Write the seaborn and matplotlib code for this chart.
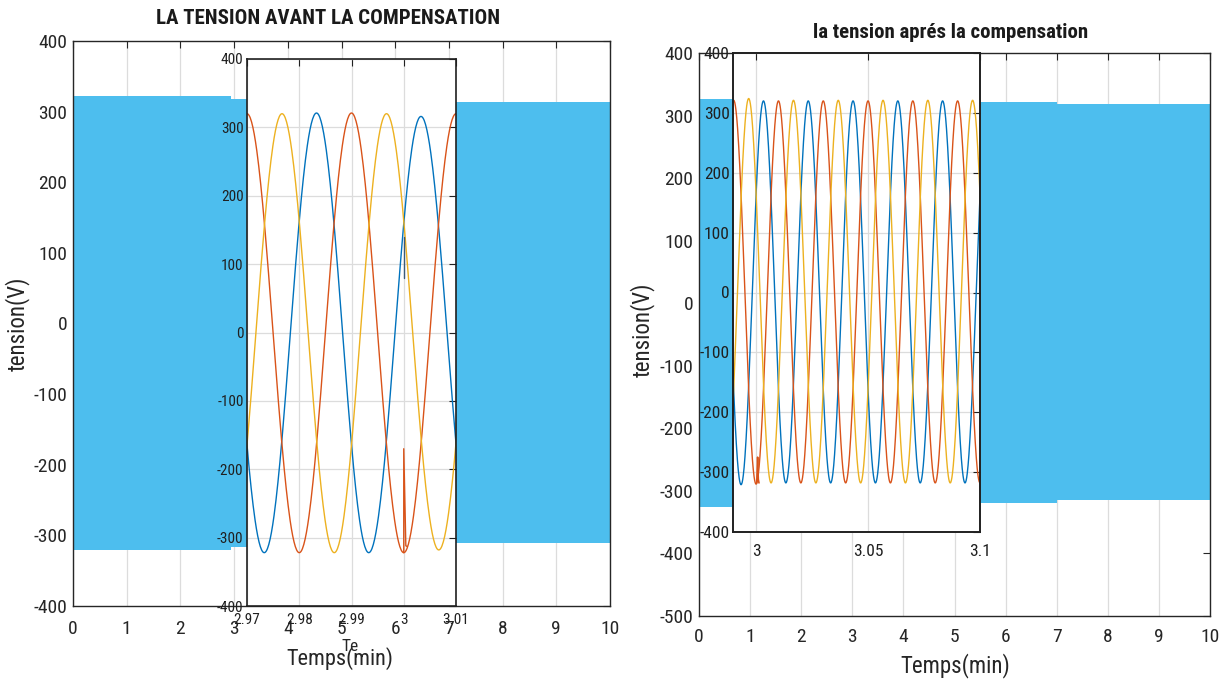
import numpy as np
import pandas as pd
import matplotlib
matplotlib.use("Agg")
import matplotlib.pyplot as plt
import seaborn as sns

# ---------------- data ----------------
# envelope of the dense 3-phase signal (main panels), step segments
band_L_t  = [0.0, 2.95, 3.25, 10.0]
band_L_hi = [322, 318, 313, 313]
band_L_lo = [-320, -317, -311, -311]

band_R_t  = [0.0, 3.0, 7.0, 10.0]
band_R_hi = [326, 322, 318, 318]
band_R_lo = [-325, -320, -315, -315]

# start-up transients at t = 0
trans_L_v = [322, 165]
trans_R_v = [-325, -500]

# extrema (time, value) of each phase, left zoom (before compensation)
L_yel_t = [2.9667, 2.9767, 2.9867, 2.9967, 3.0067, 3.0167]
L_yel_v = [-322, 320, -322, 320, -318, 318]
L_blu_t = [2.9633, 2.9733, 2.9833, 2.9933, 3.0033, 3.0133]
L_blu_v = [320, -322, 321, -322, 316, -318]
L_ora_t = [2.9600, 2.9700, 2.9800, 2.9900, 3.0000, 3.0100, 3.0200]
L_ora_v = [-320, 320, -322, 321, -322, 320, -320]
L_spike_t = [3.0000, 3.0000, 3.0004, 3.0007]
L_spike_v = [-322, -170, -312, -313]
L_blip_t = [3.0000, 3.0000]
L_blip_v = [140, 80]

# extrema of each phase, right zoom (after compensation)
R_yel_t = [2.9867, 2.9967, 3.0067, 3.0167, 3.0267, 3.0367, 3.0467, 3.0567,
           3.0667, 3.0767, 3.0867, 3.0967, 3.1067]
R_yel_v = [-320, 324, -318, 321, -318, 321, -318, 321, -318, 321, -318, 321, -318]
R_blu_t = [2.9833, 2.9933, 3.0033, 3.0133, 3.0233, 3.0333, 3.0433, 3.0533,
           3.0633, 3.0733, 3.0833, 3.0933, 3.1033]
R_blu_v = [320, -321, 320, -318, 320, -318, 320, -318, 320, -318, 320, -318, 320]
R_ora_t = [2.9900, 3.0000, 3.0100, 3.0200, 3.0300, 3.0400, 3.0500, 3.0600,
           3.0700, 3.0800, 3.0900, 3.1000, 3.1100]
R_ora_v = [321, -320, 320, -318, 320, -318, 320, -318, 320, -318, 320, -318, 320]
R_spike_t = [3.0003, 3.0007, 3.0010, 3.0013]
R_spike_v = [-318, -275, -312, -318]

main_xticks = list(range(0, 11))
L_yticks = list(range(-400, 401, 100))
R_yticks = list(range(-500, 401, 100))
L_in_xticks = [2.97, 2.98, 2.99, 3.00, 3.01]
L_in_xlabels = ["2.97", "2.98", "2.99", "3", "3.01"]
R_in_xticks = [3.0, 3.05, 3.1]
R_in_xlabels = ["3", "3.05", "3.1"]
in_yticks = list(range(-400, 401, 100))

BAND = "#4DBEEE"
C_BLU, C_ORA, C_YEL = "#0072BD", "#D95319", "#EDB120"

# ---------------- helpers ----------------
def half_cosine(ext_t, ext_v, n=80):
    ts, vs = [], []
    for i in range(len(ext_t) - 1):
        s = np.linspace(0, 1, n, endpoint=False)
        a, b = ext_v[i], ext_v[i + 1]
        ts.append(ext_t[i] + s * (ext_t[i + 1] - ext_t[i]))
        vs.append((a + b) / 2 + (a - b) / 2 * np.cos(np.pi * s))
    ts.append([ext_t[-1]]); vs.append([ext_v[-1]])
    return np.concatenate(ts), np.concatenate(vs)

def wave_frame(phases):
    rows = []
    for name, (t, v) in phases.items():
        tt, vv = half_cosine(t, v)
        rows.append(pd.DataFrame({"t": tt, "v": vv, "phase": name}))
    return pd.concat(rows, ignore_index=True)

sns.set_theme(style="white")
FAM = ["Roboto Condensed", "Liberation Sans", "DejaVu Sans"]
plt.rcParams["font.family"] = FAM
plt.rcParams["axes.unicode_minus"] = False
TXT = "#262626"

fig = plt.figure(figsize=(12.28, 6.84), dpi=100)
W, H = 1228, 684

def rect(x0, x1, ytop, ybot):
    return [x0 / W, 1 - ybot / H, (x1 - x0) / W, (ybot - ytop) / H]

def style_axes(ax, fs, padx, pady, lw=1.0, col=TXT, xgrid=True, ygrid=True):
    for s in ax.spines.values():
        s.set_color(col); s.set_linewidth(lw); s.set_visible(True)
    ax.tick_params(direction="in", top=True, right=True, length=5, width=0.8,
                   colors=col, labelsize=fs)
    ax.tick_params(axis="x", pad=padx)
    ax.tick_params(axis="y", pad=pady)
    ax.set_axisbelow(True)
    ax.grid(False)
    if xgrid:
        ax.xaxis.grid(True, color="#dcdcdc", linewidth=0.9)
    if ygrid:
        ax.yaxis.grid(True, color="#dcdcdc", linewidth=0.9)

palette = {"a": C_BLU, "b": C_ORA, "c": C_YEL}

# ================= LEFT PANEL =================
axL = fig.add_axes(rect(73, 610, 41, 606))
axL.fill_between(band_L_t, band_L_lo, band_L_hi, step="post", color=BAND, linewidth=0)
axL.plot([0, 0], trans_L_v, color=C_BLU, linewidth=1.2)
axL.set_xlim(0, 10); axL.set_ylim(-400, 400)
axL.set_xticks(main_xticks); axL.set_yticks(L_yticks)
style_axes(axL, 14, 10, 4, ygrid=False)
axL.set_ylabel("tension(V)", fontsize=16.5, color=TXT)
axL.yaxis.set_label_coords(-0.080, 0.5)
axL.set_xlabel("Temps(min)", fontsize=16, color=TXT)
axL.xaxis.set_label_coords(0.497, -0.072)
fig.text(328 / W, 1 - 18 / H, "LA TENSION AVANT LA COMPENSATION",
         ha="center", va="center", fontsize=15, fontweight="bold", color="#1a1a1a",
         family=["Roboto Condensed", "Liberation Sans"])

axLi = fig.add_axes(rect(247, 456, 59, 606))
axLi.set_facecolor("white")
dfL = wave_frame({"a": (L_blu_t, L_blu_v), "b": (L_ora_t, L_ora_v), "c": (L_yel_t, L_yel_v)})
sns.lineplot(data=dfL, x="t", y="v", hue="phase", palette=palette, sort=False,
             estimator=None, legend=False, linewidth=1.0, ax=axLi)
axLi.plot(L_spike_t, L_spike_v, color=C_ORA, linewidth=1.0)
axLi.plot(L_blip_t, L_blip_v, color="#3a5a7a", linewidth=1.0)
axLi.set_xlim(2.97, 3.01); axLi.set_ylim(-400, 400)
axLi.set_xticks(L_in_xticks); axLi.set_xticklabels(L_in_xlabels)
axLi.set_yticks(in_yticks)
style_axes(axLi, 11, 5, 2.5, lw=1.2, col="#202020")
axLi.set_xlabel("Te", fontsize=12.5, color=TXT)
axLi.xaxis.set_label_coords(0.493, -0.060)
axLi.set_ylabel("")

# ================= RIGHT PANEL =================
axR = fig.add_axes(rect(699, 1210, 53, 616))
axR.fill_between(band_R_t, band_R_lo, band_R_hi, step="post", color=BAND, linewidth=0)
axR.plot([0, 0], trans_R_v, color="#d9826a", linewidth=1.4)
axR.set_xlim(0, 10); axR.set_ylim(-500, 400)
axR.set_xticks(main_xticks); axR.set_yticks(R_yticks)
style_axes(axR, 14, 9, 4, ygrid=False)
axR.set_ylabel("tension(V)", fontsize=16.5, color=TXT)
axR.yaxis.set_label_coords(-0.086, 0.508)
axR.set_xlabel("Temps(min)", fontsize=16.5, color=TXT)
axR.xaxis.set_label_coords(0.501, -0.066)
fig.text(951 / W, 1 - 33 / H, "la tension aprés la compensation",
         ha="center", va="center", fontsize=15, fontweight="bold", color="#1a1a1a",
         family=["Roboto Condensed", "Liberation Sans"])

axRi = fig.add_axes(rect(733, 980, 53, 532))
axRi.set_facecolor("white")
dfR = wave_frame({"a": (R_blu_t, R_blu_v), "b": (R_ora_t, R_ora_v), "c": (R_yel_t, R_yel_v)})
sns.lineplot(data=dfR, x="t", y="v", hue="phase", palette=palette, sort=False,
             estimator=None, legend=False, linewidth=1.0, ax=axRi)
axRi.plot(R_spike_t, R_spike_v, color=C_ORA, linewidth=1.2)
axRi.set_xlim(2.9897, 3.1); axRi.set_ylim(-400, 400)
axRi.set_xticks(R_in_xticks); axRi.set_xticklabels(R_in_xlabels)
axRi.set_yticks(in_yticks)
style_axes(axRi, 12.5, 9, 2.5, lw=1.4, col="#202020")
axRi.set_xlabel(""); axRi.set_ylabel("")

fig.savefig("out.png", dpi=100, facecolor="white")
